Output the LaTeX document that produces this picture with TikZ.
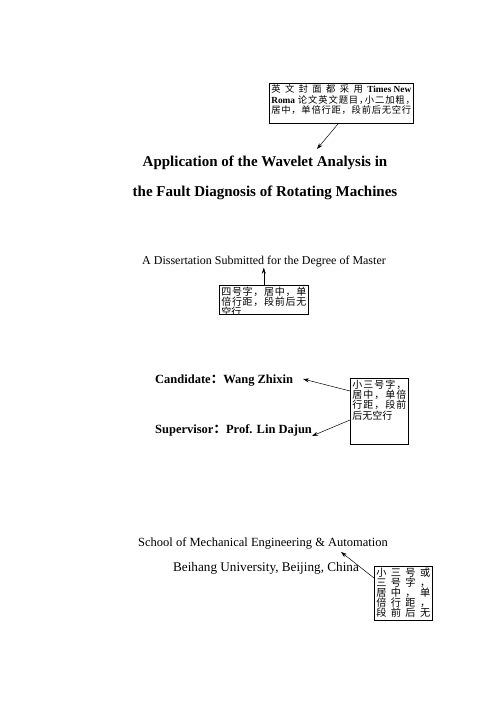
\documentclass[tikz,border=0pt]{standalone}
\usepackage{fontspec}
\setmainfont{Liberation Serif}
\newfontfamily\cjk{Noto Sans CJK SC}
\usetikzlibrary{arrows.meta}
% one stretched line inside a note box
\newcommand\sline[1]{\makebox[\linewidth][s]{\spaceskip=0pt plus 1fil\relax #1}}
\newcommand\lat[1]{{\rmfamily\bfseries #1}}
\newcommand\hc{\makebox[.6em][l]{，}}
\newcommand\notetext[3]{\parbox[c][#2][t]{#1}{#3}}
\begin{document}
\begin{tikzpicture}
    [ x=1pt, y=-1pt
    , label/.style={inner sep=0pt}
    , note/.style={draw, line width=.6pt, anchor=north west, inner xsep=2pt, inner ysep=1.8pt,
        font=\cjk\fontsize{10}{10.2}\selectfont}
    , pointer/.style={line width=.5pt, -{Stealth[length=6pt,width=4pt]}}
    ]
\useasboundingbox (0,0) rectangle (500,707);
% title and degree
\node[label, font=\bfseries\fontsize{15}{18}\selectfont] (title1) at (265,163) {Application of the Wavelet Analysis in};
\node[label, font=\bfseries\fontsize{15}{18}\selectfont] (title2) at (265,193) {the Fault Diagnosis of Rotating Machines};
\node[label, font=\fontsize{12}{14}\selectfont] (degree) at (264,262) {A Dissertation Submitted for the Degree of Master};
% names
\node[label, anchor=west, font=\bfseries\fontsize{12.5}{15}\selectfont] (cand) at (155,381) {Candidate{\cjk ：}Wang Zhixin};
\node[label, anchor=west, font=\bfseries\fontsize{12.5}{15}\selectfont] (sup) at (155,430) {Supervisor{\cjk ：}Prof. Lin Dajun};
% school
\node[label, font=\fontsize{12.5}{15}\selectfont] (school) at (263,543) {School of Mechanical Engineering \& Automation};
\node[label, font=\fontsize{13.2}{15}\selectfont] (univ) at (266,568) {Beihang University, Beijing, China};

% notes
\node[note, font=\cjk\fontsize{9.3}{10.3}\selectfont] (titlenote) at (269,83) {\notetext{140pt}{36.4pt}{%
    \sline{英 文 封 面 都 采 用 \lat{Times\hspace{.25em}New}}\\
    \sline{\lat{Roma}\hspace{.2em} 论 文 英 文 题 目 \hc 小 二 加 粗 \hc}\\
    \sline{居 中 ， 单 倍 行 距 ， 段 前 后 无 空 行}}};
\begin{scope}
\clip (218,284) rectangle (309,314.3);
\node[note] (degnote) at (219,285) {\notetext{85pt}{25.4pt}{%
    \sline{四 号 字 ， 居 中 ， 单}\\
    \sline{倍 行 距 ， 段 前 后 无}\\
    空行}};
\end{scope}
\node[note] (namenote) at (350,378) {\notetext{54pt}{62.4pt}{%
    \sline{小 三 号 字 ，}\\
    \sline{居 中 ， 单 倍}\\
    \sline{行 距 ， 段 前}\\
    后无空行}};
\node[note, font=\cjk\fontsize{10.2}{9.9}\selectfont] (schoolnote) at (374,566) {\notetext{54pt}{50.4pt}{%
    \sline{小 三 号 或}\\
    \sline{三 号 字 ，}\\
    \sline{居 中 ， 单}\\
    \sline{倍 行 距 ，}\\
    \sline{段 前 后 无}}};

% arrows
\coordinate (titletip) at (317,149);
\coordinate (candtip) at (303,379);
\coordinate (suptip) at (312,436);
\coordinate (schooltip) at (341,552);
\draw[pointer] ([xshift=-3pt]titlenote.south) -- (titletip);
\draw[pointer] (degnote.north) -- (degnote.north |- degree.south);
\draw[pointer] ([yshift=-13pt]namenote.north west) -- (candtip);
\draw[pointer] ([yshift=-42pt]namenote.north west) -- (suptip);
\draw[pointer] ([yshift=-12pt]schoolnote.north west) -- (schooltip);
\end{tikzpicture}
\end{document}
